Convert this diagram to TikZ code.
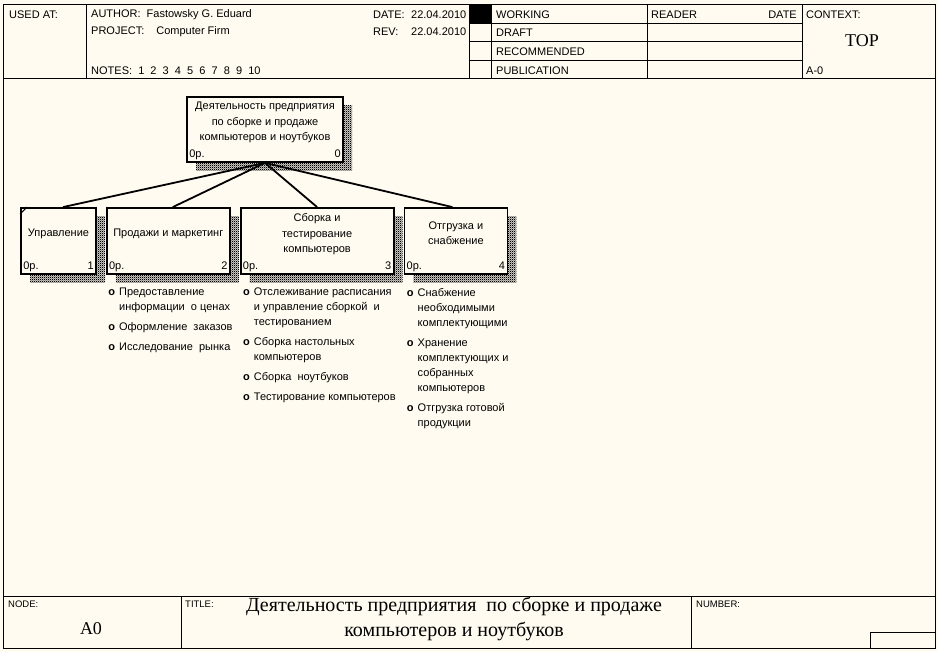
\documentclass[tikz,border=0pt]{standalone}
\usepackage{fontspec}
\setmainfont{Liberation Sans}
\newfontfamily\serifface{Liberation Serif}
\usetikzlibrary{positioning,shadows,patterns}
\definecolor{paper}{RGB}{255,251,240}
\pgfdeclarepatternformonly{checker}{\pgfqpoint{0pt}{0pt}}{\pgfqpoint{2pt}{2pt}}{\pgfqpoint{2pt}{2pt}}{%
  \pgfpathrectangle{\pgfqpoint{0pt}{0pt}}{\pgfqpoint{1.25pt}{1.25pt}}%
  \pgfpathrectangle{\pgfqpoint{1pt}{1pt}}{\pgfqpoint{1.25pt}{1.25pt}}%
  \pgfusepath{fill}}
\newcommand\bul{\llap{\textbf{o}\hspace{4pt}}}
\tikzset{
  form line/.style={line width=1pt},
  form text/.style={anchor=west, inner sep=0pt, font=\fontsize{11}{12}\selectfont},
  form small/.style={anchor=west, inner sep=0pt, font=\fontsize{9.5}{10}\selectfont},
  form big/.style={inner sep=0pt, align=center, font=\serifface\fontsize{18}{25}\selectfont},
  act box/.style={
    rectangle, draw, line width=1.8pt, fill=paper, align=center,
    font=\fontsize{11}{15.5}\selectfont, text depth=16pt,
    general shadow={shadow xshift=9pt, shadow yshift=-9pt, pattern=checker}
  },
  act num/.style={inner sep=3pt, text height=8pt, text depth=2.5pt, font=\fontsize{11}{12}\selectfont},
  idef/.style={
    label={[act num, anchor=south west]south west:0р.},
    label={[act num, anchor=south east]south east:#1}
  },
  tree link/.style={line width=1.8pt},
  item list/.style={anchor=north west, align=left, inner sep=0pt,
    font=\fontsize{11}{15}\selectfont}
}

\begin{document}
\begin{tikzpicture}[x=1pt, y=-1pt, node distance=9pt]
  % sheet and frame
  \fill[paper] (0,0) rectangle (938,652);
  \useasboundingbox (0,0) rectangle (938,652);
  \draw[form line] (3,5) rectangle (935,648);

  % header
  \draw[form line] (3,79) -- (935,79);
  \draw[form line] (86,5) -- (86,79) (469,5) -- (469,79) (491,5) -- (491,79)
    (647,5) -- (647,79) (802,5) -- (802,79);
  \draw[form line] (469,24) -- (802,24) (469,42) -- (802,42) (469,61) -- (802,61);
  \fill (469,5) rectangle (491,24);
  \node[form text] (usedat) at (9,15) {USED AT:};
  \node[form text] (author) at (91,15) {AUTHOR:\hspace{6pt}Fastowsky G. Eduard};
  \node[form text] (project) at (91,32) {PROJECT:\hspace{12pt}Computer Firm};
  \node[form text] (notes) at (91,71) {NOTES:\ \ 1\ \ 2\ \ 3\ \ 4\ \ 5\ \ 6\ \ 7\ \ 8\ \ 9\ \ 10};
  \node[form text] (date) at (373,15) {DATE:};
  \node[form text] (dateval) at (411,15) {22.04.2010};
  \node[form text] (rev) at (373,32) {REV:};
  \node[form text] (revval) at (411,32) {22.04.2010};
  \node[form text] (working) at (496,15) {WORKING};
  \node[form text] (draft) at (496,33) {DRAFT};
  \node[form text] (recommended) at (496,52) {RECOMMENDED};
  \node[form text] (publication) at (496,71) {PUBLICATION};
  \node[form text] (reader) at (651,15) {READER};
  \node[form text, anchor=east] (readerdate) at (797,15) {DATE};
  \node[form text] (context) at (806,15) {CONTEXT:};
  \node[form big] (top) at (862,41) {TOP};
  \node[form text] (ctxnode) at (806,71) {A-0};

  % activity boxes
  \node[act box, minimum width=156pt, minimum height=65pt, idef=0] (firm) at (265,129.5)
    {Деятельность предприятия\\по сборке и продаже\\компьютеров и ноутбуков};
  \node[act box, minimum width=75pt, minimum height=66pt, idef=1] (ctl) at (58.5,241) {Управление};
  \node[act box, minimum width=123pt, minimum height=66pt, idef=2, right=of ctl] (sales) {Продажи и маркетинг};
  \node[act box, minimum width=153pt, minimum height=66pt, idef=3, right=of sales] (build)
    {Сборка и\\тестирование\\компьютеров};
  \node[act box, minimum width=103pt, minimum height=66pt, idef=4, right=of build] (ship)
    {Отгрузка и\\снабжение};
  \draw[line width=1pt] ([yshift=-7pt]ctl.north west) -- ([xshift=7pt]ctl.north west);

  \draw[tree link] (firm.south) -- ([xshift=4.5pt]ctl.north);
  \draw[tree link] (firm.south) -- ([xshift=4.5pt]sales.north);
  \draw[tree link] (firm.south) -- (build.north);
  \draw[tree link] (firm.south) -- ([xshift=-3.5pt]ship.north);

  % sub-activity lists
  \node[item list] (salesitems) at ([xshift=13pt, yshift=-13pt]sales.south west)
    {\bul Предоставление\\информации\ \ о ценах\\[5pt]\bul Оформление\ \ заказов\\[5pt]\bul Исследование\ \ рынка};
  \node[item list] (builditems) at ([xshift=14pt, yshift=-13pt]build.south west)
    {\bul Отслеживание расписания\\и управление сборкой\ \ и\\тестированием\\[5pt]\bul Сборка настольных\\компьютеров\\[5pt]%
     \bul Сборка\ \ ноутбуков\\[5pt]\bul Тестирование компьютеров};
  \node[item list] (shipitems) at ([xshift=14pt, yshift=-13pt]ship.south west)
    {\bul Снабжение\\необходимыми\\комплектующими\\[5pt]\bul Хранение\\комплектующих и\\собранных\\компьютеров\\[5pt]%
     \bul Отгрузка готовой\\продукции};

  % footer
  \draw[form line] (3,596) -- (935,596) (181,596) -- (181,648) (691,596) -- (691,648);
  \draw[form line] (870,648) |- (935,632);
  \node[form small] (nodelab) at (8,604) {NODE:};
  \node[form small] (titlelab) at (185,604) {TITLE:};
  \node[form small] (numberlab) at (696,604) {NUMBER:};
  \node[form big] (nodeval) at (91,629) {A0};
  \node[form big, font=\serifface\fontsize{20}{25}\selectfont] (titleval) at (454,619)
    {Деятельность предприятия\ \ по сборке и продаже\\компьютеров и ноутбуков};
\end{tikzpicture}
\end{document}
